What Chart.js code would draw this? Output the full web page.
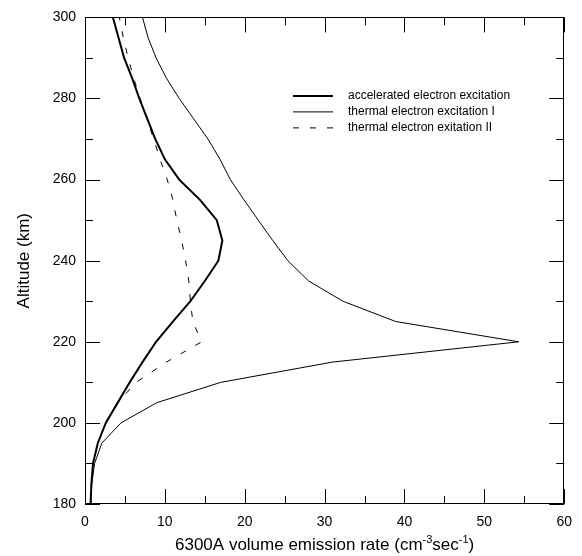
<!DOCTYPE html>
<html><head><meta charset="utf-8">
<script src="https://cdn.jsdelivr.net/npm/chart.js@4.4.1/dist/chart.umd.min.js"></script>
<style>html,body{margin:0;padding:0;background:#fff}#wrap{width:582px;height:556px}</style>
</head><body><div id="wrap"><canvas id="c" width="582" height="556"></canvas></div>
<script>
const altitudes = [180,185,190,195,200,205,210,215,220,225,230,235,240,245,250,255,260,265,270,275,280,285,290,295,300];
const accelerated = [0.7,0.8,1.0,1.6,2.6,4.1,5.6,7.2,8.9,11.0,13.2,15.0,16.7,17.2,16.5,14.4,11.8,10.0,8.8,7.8,6.8,5.9,4.9,4.2,3.5];
const thermalI = [0.7,0.85,1.2,2.1,4.5,9.0,17.0,31.0,54.3,38.9,32.3,28.0,25.4,23.5,21.7,19.9,18.2,16.9,15.4,13.6,11.8,10.2,8.9,7.9,7.2];
const thermalII = [0.7,0.8,1.0,1.6,2.6,4.1,6.4,10.2,14.6,13.5,13.2,13.0,12.6,12.1,11.5,11.0,10.3,9.4,8.6,7.75,6.9,6.1,5.4,4.8,4.3];
const seriesLabels = ['accelerated electron excitation','thermal electron excitation I','thermal electron exitation II'];
const xTicks = [0,10,20,30,40,50,60];
const yTicks = [180,200,220,240,260,280,300];
const yTitle = 'Altitude (km)';
const xTitleParts = [['6300A volume emission rate (cm',false],['-3',true],['sec',false],['-1',true],[')',false]];

const FONT = '"Liberation Sans", Arial, Helvetica, sans-serif';
const toPts = vals => vals.map((v,i)=>({x:v,y:altitudes[i]}));

const framePlugin = {
  id:'frame',
  afterDraw(chart){
    const ctx = chart.ctx, a = chart.chartArea, xs = chart.scales.x, ys = chart.scales.y;
    ctx.save();
    ctx.strokeStyle = '#000'; ctx.lineWidth = 1;
    ctx.strokeRect(Math.round(a.left)+0.5, Math.round(a.top)+0.5, Math.round(a.right-a.left)-1, Math.round(a.bottom-a.top)-1);
    ctx.beginPath();
    for (let v = xs.min; v <= xs.max; v += 5) {
      const p = Math.round(xs.getPixelForValue(v)) + 0.5;
      const len = (v % 10 === 0) ? 15 : 8;
      ctx.moveTo(p, a.bottom); ctx.lineTo(p, a.bottom - len);
      ctx.moveTo(p, a.top); ctx.lineTo(p, a.top + len);
    }
    for (let v = ys.min; v <= ys.max; v += 10) {
      const p = Math.round(ys.getPixelForValue(v)) + 0.5;
      const len = (v % 20 === 0) ? 15 : 8;
      ctx.moveTo(a.left, p); ctx.lineTo(a.left + len, p);
      ctx.moveTo(a.right, p); ctx.lineTo(a.right - len, p);
    }
    ctx.stroke();
    // y title
    ctx.fillStyle = '#000';
    ctx.font = '17px ' + FONT;
    ctx.textAlign = 'center'; ctx.textBaseline = 'middle';
    ctx.save();
    ctx.translate(24, (a.top + a.bottom) / 2);
    ctx.rotate(-Math.PI / 2);
    ctx.fillText(yTitle, 0, 0);
    ctx.restore();
    // x title with superscripts
    const big = '17px ' + FONT, small = '11px ' + FONT;
    let total = 0;
    xTitleParts.forEach(([t, sup]) => { ctx.font = sup ? small : big; total += ctx.measureText(t).width; });
    let x = (a.left + a.right) / 2 - total / 2;
    const base = 550;
    ctx.textAlign = 'left'; ctx.textBaseline = 'alphabetic';
    xTitleParts.forEach(([t, sup]) => {
      ctx.font = sup ? small : big;
      ctx.fillText(t, x, sup ? base - 7 : base);
      x += ctx.measureText(t).width;
    });
    // legend
    ctx.font = '12px ' + FONT;
    ctx.textBaseline = 'middle';
    chart.data.datasets.forEach((ds, i) => {
      const y = a.top + 78.5 + 16 * i;
      ctx.beginPath();
      ctx.lineWidth = ds.borderWidth;
      ctx.setLineDash(ds.borderDash || []);
      ctx.moveTo(a.left + 208, y); ctx.lineTo(a.left + 248, y);
      ctx.stroke();
      ctx.setLineDash([]);
      ctx.fillText(ds.label, a.left + 263, y);
    });
    ctx.restore();
  }
};

new Chart(document.getElementById('c'), {
  type: 'scatter',
  data: {
    datasets: [
      {label: seriesLabels[0], data: toPts(accelerated), showLine: true, borderColor: '#000', borderWidth: 2, pointRadius: 0, fill: false, tension: 0},
      {label: seriesLabels[1], data: toPts(thermalI), showLine: true, borderColor: '#000', borderWidth: 1, pointRadius: 0, fill: false, tension: 0},
      {label: seriesLabels[2], data: toPts(thermalII), showLine: true, borderColor: '#000', borderWidth: 1, borderDash: [6, 11], pointRadius: 0, fill: false, tension: 0}
    ]
  },
  options: {
    responsive: false, animation: false, devicePixelRatio: 1,
    layout: {padding: {top: 17, right: 11, left: 0, bottom: 0}},
    plugins: {legend: {display: false}, tooltip: {enabled: false}},
    scales: {
      x: {
        type: 'linear', min: 0, max: 60,
        afterBuildTicks: s => { s.ticks = xTicks.map(v => ({value: v})); },
        afterFit: s => { s.height = 52; },
        grid: {display: false, drawTicks: false},
        border: {display: false},
        ticks: {color: '#000', font: {family: FONT, size: 14}, padding: 10, maxRotation: 0}
      },
      y: {
        type: 'linear', min: 180, max: 300,
        afterBuildTicks: s => { s.ticks = yTicks.map(v => ({value: v})); },
        afterFit: s => { s.width = 85; },
        grid: {display: false, drawTicks: false},
        border: {display: false},
        ticks: {color: '#000', font: {family: FONT, size: 14}, padding: 9}
      }
    }
  },
  plugins: [framePlugin]
});
</script></body></html>
